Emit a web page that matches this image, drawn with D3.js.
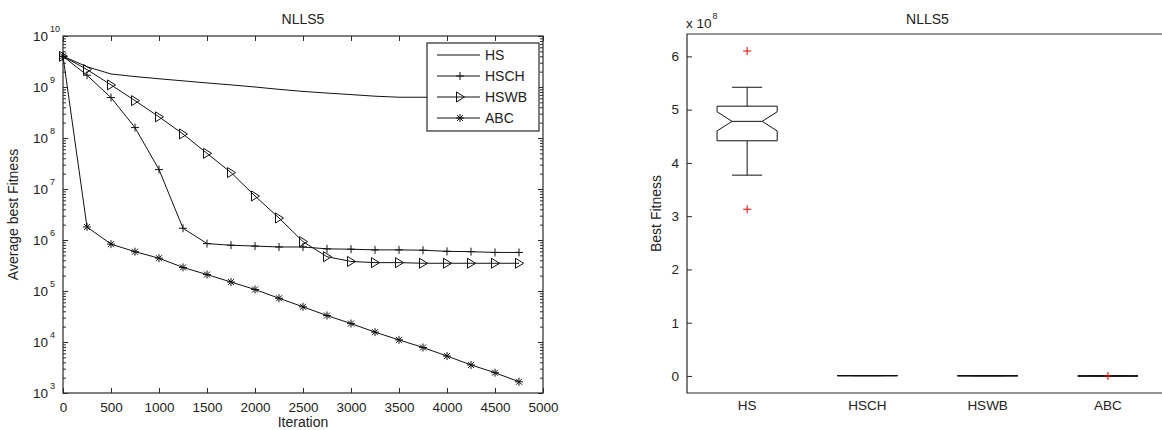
<!DOCTYPE html>
<html>
<head>
<meta charset="utf-8">
<script src="https://cdn.jsdelivr.net/npm/d3@7"></script>
<style>
  body { margin: 0; background: #fff; }
  text { font-family: "Liberation Sans", Arial, sans-serif; fill: #222; }
</style>
</head>
<body>
<svg id="chart" width="1162" height="430"></svg>
<script>
// Convergence curves, sampled every 250 iterations.
const iterations = d3.range(0, 5000, 250);
const seriesNames = ['HS', 'HSCH', 'HSWB', 'ABC'];
const hsValues = [4.0e9, 2.5e9, 1.8e9, 1.6e9, 1.45e9, 1.32e9, 1.2e9, 1.1e9, 1.0e9, 9.0e8,
  8.2e8, 7.6e8, 7.1e8, 6.6e8, 6.3e8, 6.3e8, 6.2e8, 6.1e8, 6.0e8, 6.0e8];
const hschValues = [4.0e9, 1.7e9, 6.2e8, 1.6e8, 2.4e7, 1.7e6, 8.5e5, 7.9e5, 7.6e5, 7.3e5,
  7.3e5, 6.7e5, 6.6e5, 6.4e5, 6.4e5, 6.3e5, 6.0e5, 5.9e5, 5.7e5, 5.7e5];
const hswbValues = [4.0e9, 2.2e9, 1.1e9, 5.4e8, 2.6e8, 1.2e8, 5.0e7, 2.1e7, 7.3e6, 2.7e6,
  9.3e5, 4.7e5, 3.8e5, 3.6e5, 3.6e5, 3.5e5, 3.5e5, 3.5e5, 3.5e5, 3.5e5];
const abcValues = [4.0e9, 1.8e6, 8.3e5, 5.9e5, 4.4e5, 2.9e5, 2.1e5, 1.5e5, 1.07e5, 7.2e4,
  4.9e4, 3.3e4, 2.3e4, 1.56e4, 1.1e4, 7.8e3, 5.3e3, 3.55e3, 2.5e3, 1.66e3];
const xTicks = d3.range(0, 5001, 500);
const yExponents = [3, 4, 5, 6, 7, 8, 9, 10];

// Box plot statistics of best fitness.
const boxCats = ['HS', 'HSCH', 'HSWB', 'ABC'];
const boxQ1 = [4.415e8, 5.3e5, 3.3e5, 1.4e3];
const boxMedian = [4.78e8, 5.6e5, 3.45e5, 1.6e3];
const boxQ3 = [5.065e8, 5.9e5, 3.6e5, 1.8e3];
const notchLo = [4.60e8, 5.4e5, 3.4e5, 1.5e3];
const notchHi = [4.96e8, 5.8e5, 3.5e5, 1.7e3];
const whiskerLo = [3.77e8, 4.6e5, 3.0e5, 1.1e3];
const whiskerHi = [5.42e8, 6.7e5, 3.9e5, 2.3e3];
const outliers = [[6.10e8, 3.13e8], [], [], [1.2e4]];
const boxTicks = [0, 1, 2, 3, 4, 5, 6];

const svg = d3.select('#chart');
const AXIS = '#2a2a2a';
const TICK_FS = 13.5;
const LABEL_FS = 14;

// ---------- Left: convergence plot ----------
const L = { left: 63, right: 543, top: 36, bottom: 393 };
const x = d3.scaleLinear().domain([0, 5000]).range([L.left, L.right]);
const y = d3.scaleLog().domain([1e3, 1e10]).range([L.bottom, L.top]);

const left = svg.append('g');

const majors = yExponents.map((e) => Math.pow(10, e));
const minors = [];
yExponents.slice(0, -1).forEach((e) => {
  for (let k = 2; k <= 9; k++) minors.push(k * Math.pow(10, e));
});

function styleAxis(g) {
  g.select('.domain').remove();
  g.selectAll('line').attr('stroke', AXIS);
}

left.append('g').attr('transform', `translate(0,${L.bottom})`)
  .call(d3.axisBottom(x).tickValues(xTicks).tickSize(-5).tickPadding(9).tickFormat(d3.format('d')))
  .call(styleAxis)
  .selectAll('text').attr('font-size', TICK_FS).attr('fill', '#222');
left.append('g').attr('transform', `translate(0,${L.top})`)
  .call(d3.axisTop(x).tickValues(xTicks).tickSize(-5).tickFormat(''))
  .call(styleAxis);
[[L.left, d3.axisLeft], [L.right, d3.axisRight]].forEach(([px, ax]) => {
  left.append('g').attr('transform', `translate(${px},0)`)
    .call(ax(y).tickValues(majors).tickSize(-5).tickFormat(''))
    .call(styleAxis);
  left.append('g').attr('transform', `translate(${px},0)`)
    .call(ax(y).tickValues(minors).tickSize(-3).tickFormat(''))
    .call(styleAxis);
});

// log tick labels with superscripts
const yLab = left.append('g').selectAll('g').data(yExponents).join('g')
  .attr('transform', (e) => `translate(0,${y(Math.pow(10, e))})`);
yLab.append('text').attr('x', 48).attr('y', 5).attr('text-anchor', 'end')
  .attr('font-size', TICK_FS).text('10');
yLab.append('text').attr('x', 50).attr('y', -4).attr('font-size', 9).text((e) => e);

left.append('rect')
  .attr('x', L.left).attr('y', L.top)
  .attr('width', L.right - L.left).attr('height', L.bottom - L.top)
  .attr('fill', 'none').attr('stroke', AXIS).attr('stroke-width', 1.2);

left.append('text').attr('x', (L.left + L.right) / 2).attr('y', 24)
  .attr('text-anchor', 'middle').attr('font-size', LABEL_FS).text('NLLS5');
left.append('text').attr('x', (L.left + L.right) / 2).attr('y', 427)
  .attr('text-anchor', 'middle').attr('font-size', LABEL_FS).text('Iteration');
left.append('text').attr('transform', `translate(18,${(L.top + L.bottom) / 2}) rotate(-90)`)
  .attr('text-anchor', 'middle').attr('font-size', LABEL_FS).text('Average best Fitness');

// markers
const markers = {
  HS: null,
  HSCH: (g) => g.append('path').attr('d', 'M-4,0H4M0,-4V4'),
  HSWB: (g) => g.append('path').attr('d', 'M-3.5,-5L4.5,0L-3.5,5Z').attr('fill', 'none'),
  ABC: (g) => g.append('path').attr('d', 'M-4,0H4M0,-4V4M-3,-3L3,3M-3,3L3,-3'),
};

const seriesValues = [hsValues, hschValues, hswbValues, abcValues];
const line = d3.line().x((d) => x(d[0])).y((d) => y(d[1]));

seriesNames.forEach((name, si) => {
  const pts = iterations.map((it, i) => [it, seriesValues[si][i]]);
  const g = left.append('g');
  g.append('path').datum(pts).attr('d', line)
    .attr('fill', 'none').attr('stroke', '#111').attr('stroke-width', 1);
  if (markers[name]) {
    g.selectAll('g.m').data(pts).join('g').attr('class', 'm')
      .attr('transform', (d) => `translate(${x(d[0])},${y(d[1])})`)
      .each(function () {
        markers[name](d3.select(this)).attr('stroke', '#111').attr('stroke-width', 1);
      });
  }
});

// legend
const leg = left.append('g').attr('transform', 'translate(427,43)');
leg.append('rect').attr('width', 112).attr('height', 88)
  .attr('fill', '#fff').attr('stroke', AXIS).attr('stroke-width', 1.2);
seriesNames.forEach((name, i) => {
  const ly = 12 + i * 21;
  const row = leg.append('g').attr('transform', `translate(0,${ly})`);
  row.append('line').attr('x1', 10).attr('x2', 53).attr('stroke', '#111');
  if (markers[name]) {
    const m = row.append('g').attr('transform', 'translate(33,0)');
    markers[name](m).attr('stroke', '#111');
  }
  row.append('text').attr('x', 58).attr('y', 5).attr('font-size', LABEL_FS).text(name);
});

// ---------- Right: box plot ----------
const R = { left: 687, right: 1168, top: 34, bottom: 393 };
const bx = d3.scaleLinear().domain([0.5, 4.5]).range([R.left, R.right]);
const by = d3.scaleLinear().domain([-0.32e8, 6.42e8]).range([R.bottom, R.top]);
const right = svg.append('g');

right.append('g').attr('transform', `translate(${R.left},0)`)
  .call(d3.axisLeft(by).tickValues(boxTicks.map((t) => t * 1e8)).tickSize(-5).tickPadding(8)
    .tickFormat((d) => d / 1e8))
  .call(styleAxis)
  .selectAll('text').attr('font-size', TICK_FS).attr('fill', '#222');
right.append('path')
  .attr('d', `M${R.right},${R.top}H${R.left}V${R.bottom}H${R.right}`)
  .attr('fill', 'none').attr('stroke', AXIS).attr('stroke-width', 1.2);

right.append('text').attr('x', (R.left + R.right) / 2).attr('y', 24)
  .attr('text-anchor', 'middle').attr('font-size', LABEL_FS).text('NLLS5');
right.append('text').attr('transform', `translate(661,${(R.top + R.bottom) / 2}) rotate(-90)`)
  .attr('text-anchor', 'middle').attr('font-size', LABEL_FS).text('Best Fitness');
const sci = right.append('text').attr('x', 686).attr('y', 28).attr('font-size', TICK_FS);
sci.append('tspan').text('x 10');
sci.append('tspan').attr('dy', -9).attr('dx', 1).attr('font-size', 9).text('8');

right.append('g').selectAll('text').data(boxCats).join('text')
  .attr('x', (d, i) => bx(i + 1)).attr('y', 410)
  .attr('text-anchor', 'middle').attr('font-size', TICK_FS).text((d) => d);

const boxW = bx(1.25) - bx(1);
boxCats.forEach((cat, i) => {
  const cx = bx(i + 1);
  const g = right.append('g').attr('stroke', '#111').attr('fill', 'none').attr('stroke-width', 1);
  // whiskers
  g.append('line').attr('x1', cx).attr('x2', cx).attr('y1', by(boxQ3[i])).attr('y2', by(whiskerHi[i]));
  g.append('line').attr('x1', cx).attr('x2', cx).attr('y1', by(boxQ1[i])).attr('y2', by(whiskerLo[i]));
  [whiskerHi[i], whiskerLo[i]].forEach((v) => {
    g.append('line').attr('x1', cx - boxW / 2).attr('x2', cx + boxW / 2).attr('y1', by(v)).attr('y2', by(v));
  });
  // notched box
  const nw = boxW / 2;
  const pts = [
    [cx - boxW, by(boxQ1[i])], [cx - boxW, by(notchLo[i])], [cx - nw, by(boxMedian[i])],
    [cx - boxW, by(notchHi[i])], [cx - boxW, by(boxQ3[i])], [cx + boxW, by(boxQ3[i])],
    [cx + boxW, by(notchHi[i])], [cx + nw, by(boxMedian[i])], [cx + boxW, by(notchLo[i])],
    [cx + boxW, by(boxQ1[i])],
  ];
  g.append('path').attr('d', d3.line()(pts) + 'Z');
  g.append('line').attr('x1', cx - nw).attr('x2', cx + nw)
    .attr('y1', by(boxMedian[i])).attr('y2', by(boxMedian[i]));
  // outliers
  g.selectAll('path.o').data(outliers[i]).join('path').attr('class', 'o')
    .attr('transform', (v) => `translate(${cx},${by(v)})`)
    .attr('d', 'M-4,0H4M0,-4V4').attr('stroke', '#e00000');
});
</script>
</body>
</html>
